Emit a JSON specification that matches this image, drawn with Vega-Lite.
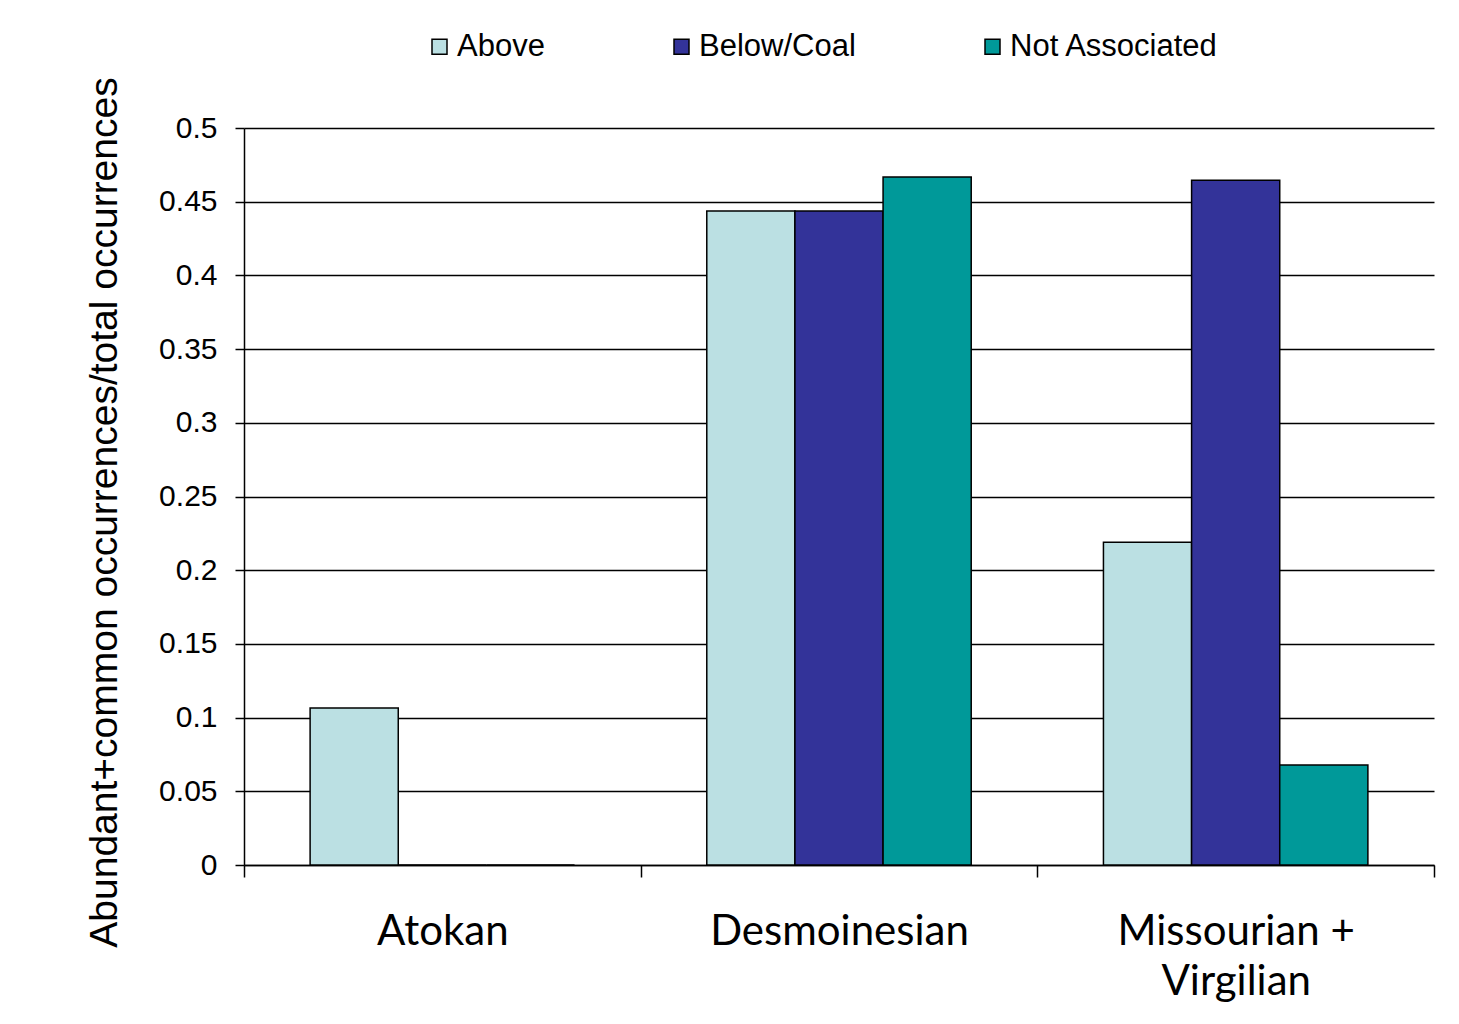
{
  "$schema": "https://vega.github.io/schema/vega-lite/v6.json",
  "width": 1190,
  "height": 737,
  "autosize": {"type": "none"},
  "padding": {"left": 244, "top": 128, "right": 25, "bottom": 159},
  "background": "white",
  "data": {
    "values": [
      {"period": "Atokan", "assoc": "Above", "ratio": 0.1065},
      {"period": "Atokan", "assoc": "Below/Coal", "ratio": 0},
      {"period": "Atokan", "assoc": "Not Associated", "ratio": 0},
      {"period": "Desmoinesian", "assoc": "Above", "ratio": 0.4437},
      {"period": "Desmoinesian", "assoc": "Below/Coal", "ratio": 0.4437},
      {"period": "Desmoinesian", "assoc": "Not Associated", "ratio": 0.4668},
      {"period": "Missourian + Virgilian", "assoc": "Above", "ratio": 0.219},
      {"period": "Missourian + Virgilian", "assoc": "Below/Coal", "ratio": 0.4645},
      {"period": "Missourian + Virgilian", "assoc": "Not Associated", "ratio": 0.0678}
    ]
  },
  "mark": {"type": "bar", "stroke": "black", "strokeWidth": 1.5},
  "encoding": {
    "x": {
      "field": "period",
      "type": "nominal",
      "sort": ["Atokan", "Desmoinesian", "Missourian + Virgilian"],
      "scale": {"paddingInner": 0, "paddingOuter": 0},
      "axis": {
        "title": null,
        "labelAngle": 0,
        "labelLimit": 0,
        "tickBand": "extent",
        "tickSize": 12,
        "tickColor": "black",
        "tickWidth": 1.5,
        "domainColor": "black",
        "domainWidth": 1.5,
        "labelFont": "Lato",
        "labelFontSize": 42,
        "labelColor": "black",
        "labelPadding": 34,
        "labelLineHeight": 50,
        "labelExpr": "datum.value == 'Missourian + Virgilian' ? ['Missourian +', 'Virgilian'] : datum.value"
      }
    },
    "xOffset": {
      "field": "assoc",
      "type": "nominal",
      "sort": ["Above", "Below/Coal", "Not Associated"],
      "scale": {"paddingInner": 0, "paddingOuter": 0.75}
    },
    "y": {
      "field": "ratio",
      "type": "quantitative",
      "scale": {"domain": [0, 0.5]},
      "axis": {
        "title": "Abundant+common occurrences/total occurrences",
        "titleFont": "Liberation Sans",
        "titleFontSize": 39,
        "titleFontWeight": "normal",
        "titleColor": "black",
        "titleX": -140,
        "titleY": 384,
        "titleBaseline": "middle",
        "values": [0, 0.05, 0.1, 0.15, 0.2, 0.25, 0.3, 0.35, 0.4, 0.45, 0.5],
        "labelExpr": "'' + datum.value",
        "labelFont": "Liberation Sans",
        "labelFontSize": 30,
        "labelColor": "black",
        "labelPadding": 18,
        "tickSize": 9,
        "tickColor": "black",
        "tickWidth": 1.5,
        "domainColor": "black",
        "domainWidth": 1.5,
        "grid": true,
        "gridColor": "black",
        "gridWidth": 1.5,
        "gridOpacity": 1
      }
    },
    "color": {
      "field": "assoc",
      "type": "nominal",
      "sort": ["Above", "Below/Coal", "Not Associated"],
      "scale": {
        "domain": ["Above", "Below/Coal", "Not Associated"],
        "range": ["#BBE0E3", "#333399", "#009999"]
      },
      "legend": {
        "title": null,
        "orient": "none",
        "direction": "horizontal",
        "legendX": 180,
        "legendY": -97,
        "symbolType": "square",
        "symbolSize": 225,
        "symbolStrokeColor": "black",
        "symbolStrokeWidth": 1.5,
        "symbolOpacity": 1,
        "labelFont": "Liberation Sans",
        "labelFontSize": 31,
        "labelLimit": 0,
        "labelColor": "black",
        "labelOffset": 2,
        "columnPadding": 121
      }
    }
  },
  "config": {
    "view": {"stroke": null}
  }
}
